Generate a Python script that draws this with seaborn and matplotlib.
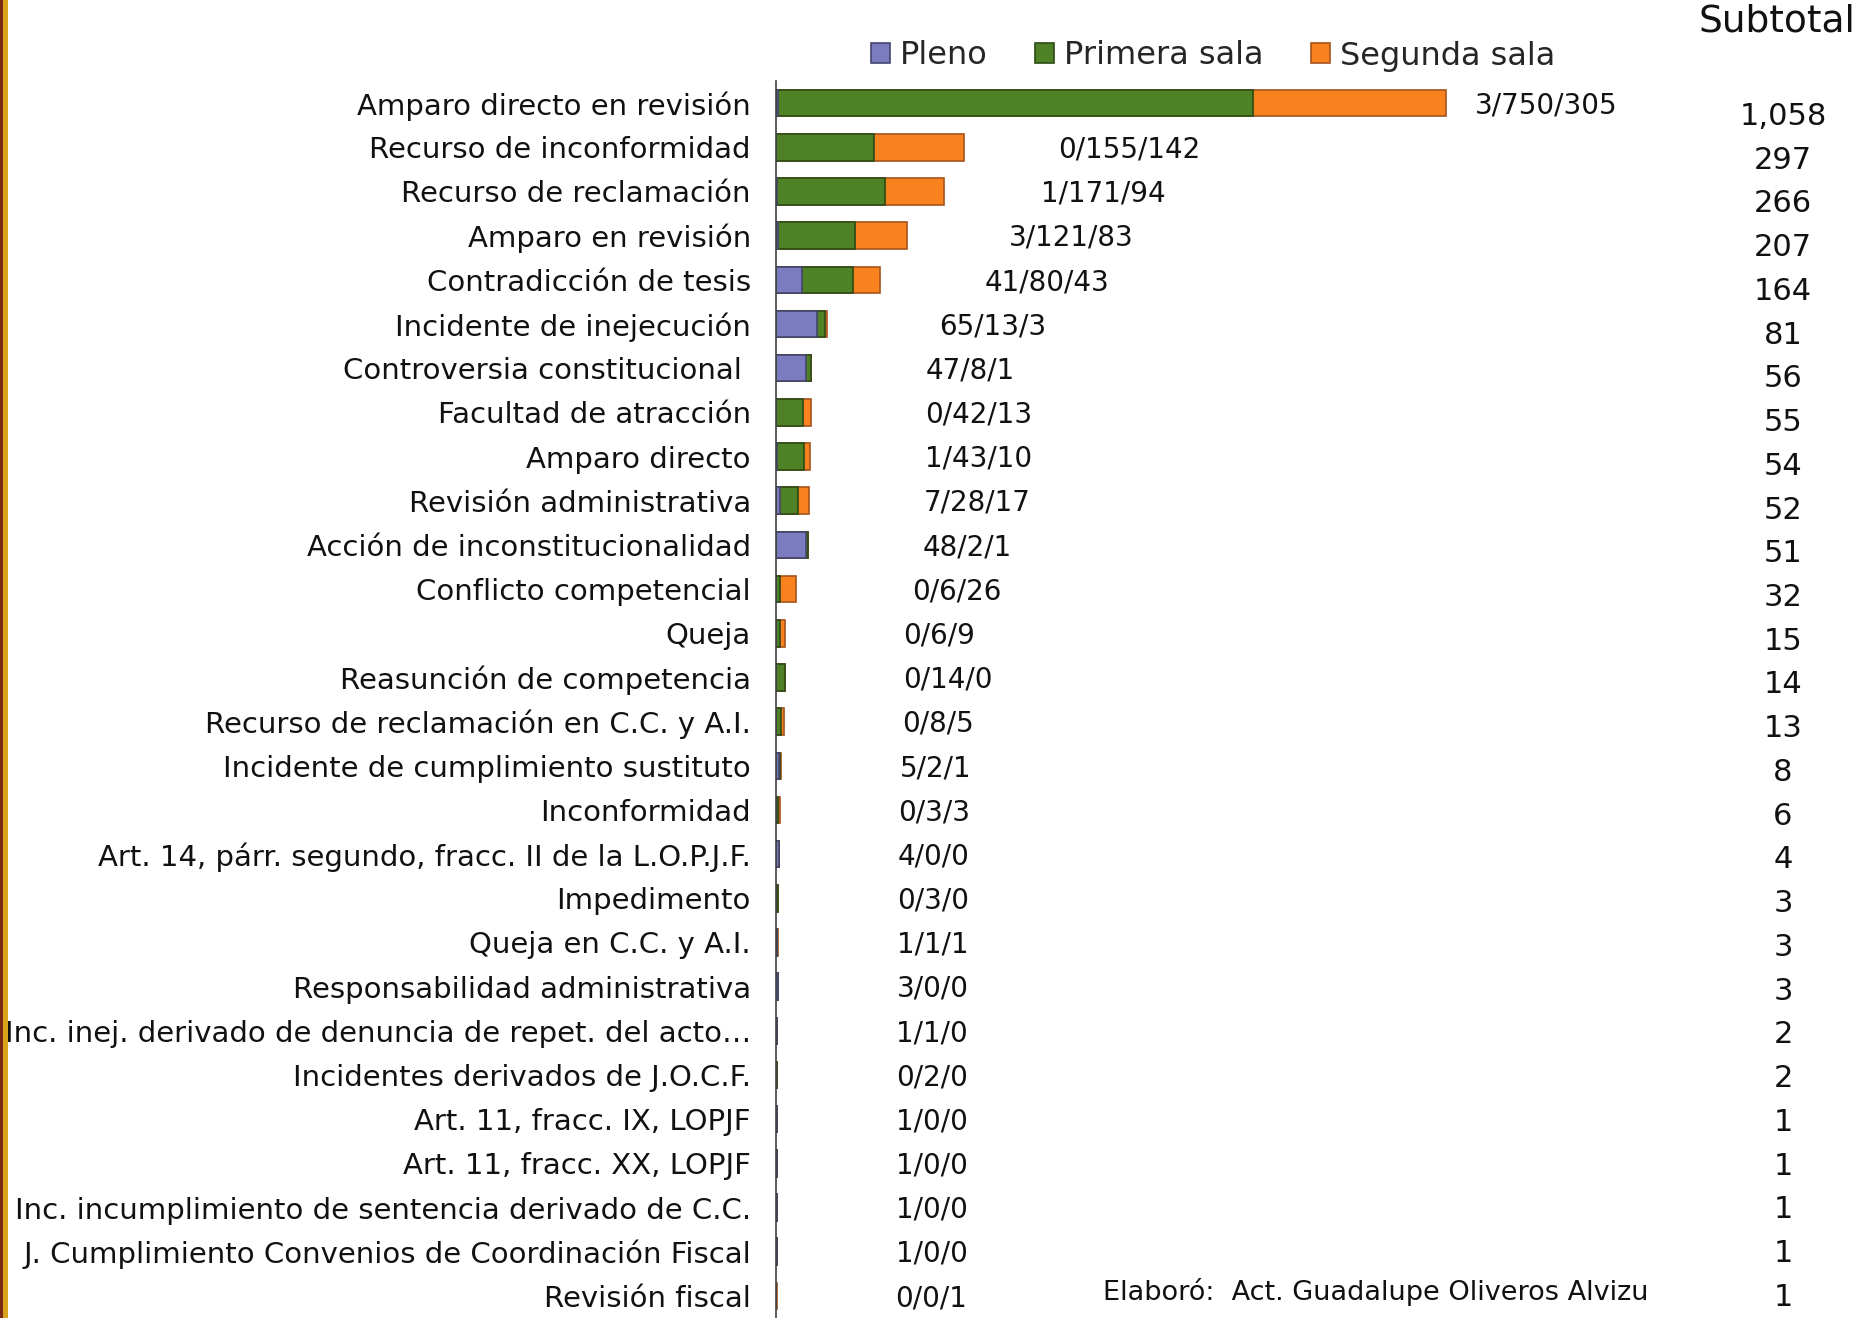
import numpy as np
import pandas as pd
import seaborn as sns
import matplotlib.pyplot as plt
from matplotlib.patches import Rectangle
from matplotlib.ticker import FixedLocator

categories = [
    'Amparo directo en revisión',
    'Recurso de inconformidad',
    'Recurso de reclamación',
    'Amparo en revisión',
    'Contradicción de tesis',
    'Incidente de inejecución',
    'Controversia constitucional ',
    'Facultad de atracción',
    'Amparo directo',
    'Revisión administrativa',
    'Acción de inconstitucionalidad',
    'Conflicto competencial',
    'Queja',
    'Reasunción de competencia',
    'Recurso de reclamación en C.C. y A.I.',
    'Incidente de cumplimiento sustituto',
    'Inconformidad',
    'Art. 14, párr. segundo, fracc. II de la L.O.P.J.F.',
    'Impedimento',
    'Queja en C.C. y A.I.',
    'Responsabilidad administrativa',
    'Inc. inej. derivado de denuncia de repet. del acto…',
    'Incidentes derivados de J.O.C.F.',
    'Art. 11, fracc. IX, LOPJF',
    'Art. 11, fracc. XX, LOPJF',
    'Inc. incumplimiento de sentencia derivado de C.C.',
    'J. Cumplimiento Convenios de Coordinación Fiscal',
    'Revisión fiscal',
]
pleno = [3, 0, 1, 3, 41, 65, 47, 0, 1, 7, 48, 0, 0, 0, 0, 5, 0, 4, 0, 1, 3, 1, 0, 1, 1, 1, 1, 0]
primera = [750, 155, 171, 121, 80, 13, 8, 42, 43, 28, 2, 6, 6, 14, 8, 2, 3, 0, 3, 1, 0, 1, 2, 0, 0, 0, 0, 0]
segunda = [305, 142, 94, 83, 43, 3, 1, 13, 10, 17, 1, 26, 9, 0, 5, 1, 3, 0, 0, 1, 0, 0, 0, 0, 0, 0, 0, 1]
series_names = ['Pleno', 'Primera sala', 'Segunda sala']

df = pd.DataFrame({'cat': categories, 'pleno': pleno, 'primera': primera, 'segunda': segunda})
df['c1'] = df['pleno']
df['c2'] = df['pleno'] + df['primera']
df['total'] = df['c2'] + df['segunda']

colors = ['#7b7bc0', '#4f8226', '#f7821e']
edges = ['#46466e', '#2c4a14', '#a8531a']

sns.set_style('white')
plt.rcParams['font.family'] = ['DejaVu Sans']

fig = plt.figure(figsize=(18.64, 13.18), dpi=100)
ax = fig.add_axes([0.4163, 0.0, 0.5735, 0.9385])

# stacked bars drawn as cumulative layers
sns.barplot(data=df, x='total', y='cat', orient='h', color=colors[2], edgecolor=edges[2],
            linewidth=1.2, width=0.6, saturation=1, ax=ax)
sns.barplot(data=df, x='c2', y='cat', orient='h', color=colors[1], edgecolor=edges[1],
            linewidth=1.2, width=0.6, saturation=1, ax=ax)
sns.barplot(data=df, x='c1', y='cat', orient='h', color=colors[0], edgecolor=edges[0],
            linewidth=1.2, width=0.6, saturation=1, ax=ax)

ax.set_xlim(0, 1688)
ax.set_ylim(len(categories) - 0.5, -0.5)
ax.set_xlabel('')
ax.set_ylabel('')
ax.set_xticks([])
for s in ['top', 'right', 'bottom']:
    ax.spines[s].set_visible(False)
ax.spines['left'].set_color('#404040')
ax.spines['left'].set_linewidth(1.2)

ax.tick_params(axis='y', which='major', length=0, pad=18, labelsize=21, labelcolor='#111111')
ax.yaxis.set_minor_locator(FixedLocator(np.arange(-0.5, len(categories), 1.0)))
ax.tick_params(axis='y', which='minor', length=8, width=1.2, color='#404040', direction='out')

# data labels p/p/s
for i, row in df.iterrows():
    lx = 188 + 0.865 * row['total']
    ax.text(lx, i + 0.05, f"{row['pleno']}/{row['primera']}/{row['segunda']}",
            ha='left', va='center', fontsize=20, color='#111111')

# subtotal column
tr = ax.get_yaxis_transform()
for i, row in df.iterrows():
    ax.text(0.942, i * 0.99 + 0.3, f"{row['total']:,}", transform=tr, ha='center', va='center',
            fontsize=22, color='#111111')
fig.text(1777 / 1864, 1 - 22 / 1318, 'Subtotal', ha='center', va='center', fontsize=27, color='#111111')

# legend
handles = [Rectangle((0, 0), 1, 1, facecolor=c, edgecolor=e, linewidth=1.2) for c, e in zip(colors, edges)]
fig.legend(handles, series_names, loc='center', bbox_to_anchor=(1213 / 1864, 1 - 56 / 1318), ncol=3,
           frameon=False, fontsize=23, handlelength=0.6, handleheight=0.6, handletextpad=0.3,
           columnspacing=1.5)

fig.text(1103 / 1864, 1 - 1292 / 1318, 'Elaboró:  Act. Guadalupe Oliveros Alvizu', ha='left', va='center',
         fontsize=19.5, color='#111111')

# gold stripe on the left edge
fig.patches.append(Rectangle((0, 0), 3 / 1864, 1, transform=fig.transFigure, facecolor='#7a2a10',
                             edgecolor='none', zorder=5))
fig.patches.append(Rectangle((3 / 1864, 0), 5 / 1864, 1, transform=fig.transFigure, facecolor='#d9a21b',
                             edgecolor='none', zorder=5))

fig.savefig('out.png', dpi=100)
